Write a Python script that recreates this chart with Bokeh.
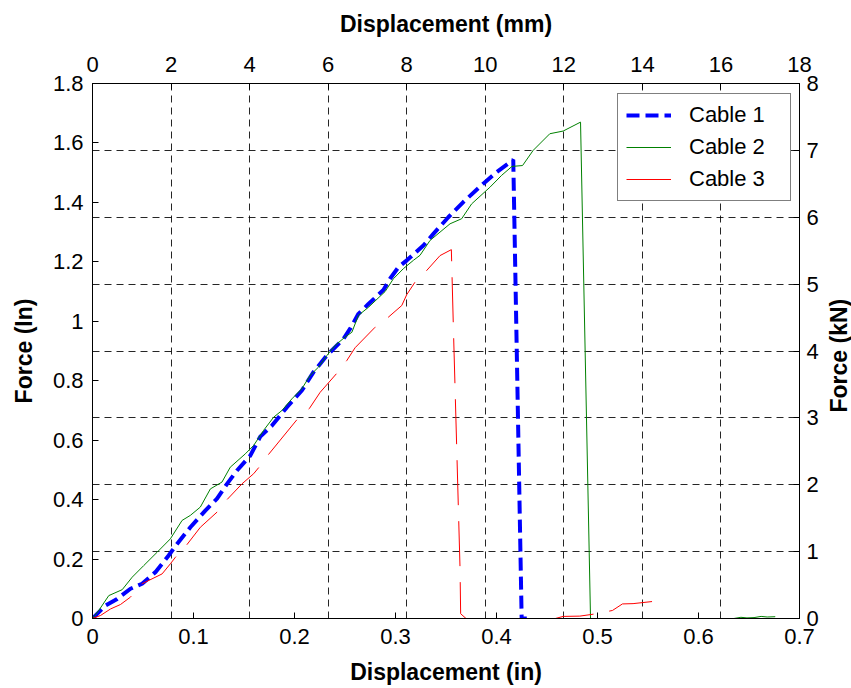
import math
from bokeh.plotting import figure
from bokeh.models import Range1d, LinearAxis, FixedTicker
from bokeh.layouts import row
from bokeh.core.properties import value
from bokeh.embed import file_html
from bokeh.resources import INLINE

# ---------------- data (displacement in inches, force in left-axis units) -------------
cable1_x = [0, 0.0129, 0.0244, 0.0376, 0.0491, 0.0623, 0.0754, 0.0837, 0.0969, 0.1117,
            0.1233, 0.1332, 0.1431, 0.1562, 0.1661, 0.1777, 0.1925, 0.2073, 0.2188, 0.2321,
            0.2485, 0.2551, 0.2633, 0.2732, 0.2880, 0.2946, 0.3029, 0.3112, 0.3276, 0.3375,
            0.3523, 0.3671, 0.3869, 0.4001, 0.4166, 0.4249, 0.4300]
cable1_y = [0, 0.044, 0.066, 0.100, 0.117, 0.156, 0.212, 0.251, 0.307, 0.363,
            0.403, 0.453, 0.498, 0.548, 0.612, 0.649, 0.711, 0.767, 0.829, 0.885,
            0.941, 0.975, 1.025, 1.058, 1.105, 1.143, 1.182, 1.205, 1.255, 1.294,
            1.350, 1.401, 1.463, 1.502, 1.543, 0.0, 0.0]

cable2_x = [0, 0.0062, 0.0161, 0.0294, 0.0393, 0.0507, 0.0640, 0.0771, 0.0887, 0.0969,
            0.1068, 0.1167, 0.1282, 0.1364, 0.1513, 0.1595, 0.1694, 0.1793, 0.1876, 0.1974,
            0.2073, 0.2155, 0.2238, 0.2321, 0.2403, 0.2501, 0.2568, 0.2633, 0.2732, 0.2897,
            0.2979, 0.3078, 0.3177, 0.3243, 0.3342, 0.3540, 0.3655, 0.3754, 0.3935, 0.4051,
            0.4153, 0.4258, 0.4363, 0.4528, 0.4660, 0.4832, 0.4931, 0.5000, 0.6350, 0.6420,
            0.6480, 0.6550, 0.6620, 0.6680, 0.6760]
cable2_y = [0, 0.027, 0.077, 0.097, 0.139, 0.178, 0.223, 0.268, 0.330, 0.347,
            0.375, 0.436, 0.459, 0.509, 0.554, 0.582, 0.633, 0.677, 0.700, 0.739,
            0.773, 0.818, 0.846, 0.885, 0.919, 0.947, 0.963, 1.020, 1.047, 1.100,
            1.143, 1.177, 1.205, 1.222, 1.272, 1.328, 1.345, 1.395, 1.451, 1.491,
            1.521, 1.524, 1.575, 1.631, 1.640, 1.670, 0.0, 0.0, 0.0, 0.004,
            0.002, 0.003, 0.007, 0.005, 0.006]

cable3_x = [0, 0.0079, 0.0178, 0.0277, 0.0376, 0.0491, 0.0689, 0.0771, 0.0821, 0.0936,
            0.1068, 0.1233, 0.1332, 0.1480, 0.1595, 0.1644, 0.1743, 0.2024, 0.2146, 0.2254,
            0.2419, 0.2518, 0.2600, 0.2798, 0.2930, 0.3062, 0.3112, 0.3194, 0.3309, 0.3441,
            0.3553, 0.3572, 0.3606, 0.3639, 0.3645, 0.3705, 0.4030, 0.4330, 0.4530, 0.4561,
            0.4660, 0.4825, 0.4990, 0.5148, 0.5247, 0.5352, 0.5540]
cable3_y = [0, 0.010, 0.032, 0.047, 0.072, 0.117, 0.150, 0.184, 0.206, 0.249,
            0.307, 0.358, 0.400, 0.453, 0.487, 0.507, 0.552, 0.669, 0.706, 0.761,
            0.825, 0.868, 0.911, 0.980, 1.014, 1.053, 1.090, 1.132, 1.171, 1.221,
            1.241, 0.993, 0.576, 0.168, 0.016, -0.002, -0.003, -0.003, -0.003, -0.002,
            0.007, 0.008, 0.016, 0.027, 0.049, 0.050, 0.057]

in_ticks = [0, 0.1, 0.2, 0.3, 0.4, 0.5, 0.6, 0.7]
in_labels = ["0", "0.1", "0.2", "0.3", "0.4", "0.5", "0.6", "0.7"]
force_ticks = [0, 0.2, 0.4, 0.6, 0.8, 1.0, 1.2, 1.4, 1.6, 1.8]
force_labels = ["0", "0.2", "0.4", "0.6", "0.8", "1", "1.2", "1.4", "1.6", "1.8"]
mm_ticks = [0, 2, 4, 6, 8, 10, 12, 14, 16, 18]
kn_ticks = [0, 1, 2, 3, 4, 5, 6, 7, 8]
right_title = ["Force (kN)"]

X_MAX, Y_MAX, MM_MAX, KN_MAX = 0.7, 1.8, 18, 8

FONT = "Liberation Sans"
TICK_SIZE = "22px"
LABEL_SIZE = "23px"

MAIN_W, SIDE_W, H = 821, 30, 688

p = figure(width=MAIN_W, height=H, output_backend="svg", toolbar_location=None,
           x_range=Range1d(0, X_MAX), y_range=Range1d(0, Y_MAX),
           x_axis_location=None, y_axis_location=None,
           min_border_left=92, min_border_right=21, min_border_top=83, min_border_bottom=70,
           background_fill_color="white", border_fill_color="white")
p.outline_line_color = "black"
p.outline_line_width = 1

p.extra_x_ranges = {"mm": Range1d(0, MM_MAX)}
p.extra_y_ranges = {"kn": Range1d(0, KN_MAX)}

bottom_axis = LinearAxis(axis_label="Displacement (in)")
left_axis = LinearAxis(axis_label="Force (In)")
top_axis = LinearAxis(x_range_name="mm", axis_label="Displacement (mm)")
right_axis = LinearAxis(y_range_name="kn")
p.add_layout(bottom_axis, "below")
p.add_layout(left_axis, "left")
p.add_layout(top_axis, "above")
p.add_layout(right_axis, "right")

bottom_axis.ticker = FixedTicker(ticks=in_ticks)
bottom_axis.major_label_overrides = {t: l for t, l in zip(in_ticks, in_labels)}
left_axis.ticker = FixedTicker(ticks=force_ticks)
left_axis.major_label_overrides = {t: l for t, l in zip(force_ticks, force_labels)}
top_axis.ticker = FixedTicker(ticks=mm_ticks)
right_axis.ticker = FixedTicker(ticks=kn_ticks)

for ax in [bottom_axis, left_axis, top_axis, right_axis]:
    ax.axis_line_color = "black"
    ax.axis_line_width = 1
    ax.major_tick_in = 6
    ax.major_tick_out = 0
    ax.minor_tick_line_color = None
    ax.major_tick_line_color = "black"
    ax.major_label_text_font = FONT
    ax.major_label_text_font_size = TICK_SIZE
    ax.major_label_text_color = "black"
    ax.axis_label_text_font = FONT
    ax.axis_label_text_font_size = LABEL_SIZE
    ax.axis_label_text_font_style = "bold"
    ax.axis_label_text_color = "black"

bottom_axis.major_label_standoff = 10
bottom_axis.axis_label_standoff = 12
top_axis.major_label_standoff = 12
top_axis.axis_label_standoff = 17
left_axis.major_label_standoff = 9
left_axis.axis_label_standoff = 13
right_axis.major_label_standoff = 7

# grid lines follow the top (mm) and right (kN) axes
p.xgrid.ticker = FixedTicker(ticks=[m * X_MAX / MM_MAX for m in mm_ticks[1:-1]])
p.ygrid.ticker = FixedTicker(ticks=[k * Y_MAX / KN_MAX for k in kn_ticks[1:-1]])
for g in [p.xgrid[0], p.ygrid[0]]:
    g.grid_line_color = "black"
    g.grid_line_alpha = 0.85
    g.grid_line_width = 1
    g.grid_line_dash = "7 5"

p.line(cable1_x, cable1_y, color="#0000FF", line_width=4, line_dash="13 6",
       legend_label="Cable 1")
p.line(cable2_x, cable2_y, color="#008000", line_width=1, legend_label="Cable 2")
p.line(cable3_x, cable3_y, color="#FF0000", line_width=1, line_dash="45 16",
       legend_label="Cable 3")

lg = p.legend[0]
lg.location = (525, 417)
lg.border_line_color = "black"
lg.border_line_width = 1
lg.background_fill_color = "white"
lg.background_fill_alpha = 1
lg.label_text_font = FONT
lg.label_text_font_size = TICK_SIZE
lg.label_text_color = "black"
lg.glyph_width = 45
lg.glyph_height = 22
lg.label_height = 22
lg.label_standoff = 18
lg.label_width = 93
lg.spacing = 6
lg.padding = 8
lg.margin = 0

# narrow strip on the right carrying the right-hand axis title (reads bottom-to-top)
side = figure(width=SIDE_W, height=H, output_backend="svg", toolbar_location=None,
              x_range=Range1d(0, SIDE_W), y_range=Range1d(0, H),
              x_axis_location=None, y_axis_location=None,
              min_border=0, background_fill_color="white", border_fill_color="white")
side.outline_line_color = None
side.grid.visible = False
side.text(x=[17], y=[H - 350], text=right_title, angle=math.pi / 2,
          text_align="center", text_baseline="middle", text_font=value(FONT),
          text_font_size=LABEL_SIZE, text_font_style="bold", text_color="black")

layout = row(p, side, spacing=0)
open("out.html", "w").write(file_html(layout, INLINE))
